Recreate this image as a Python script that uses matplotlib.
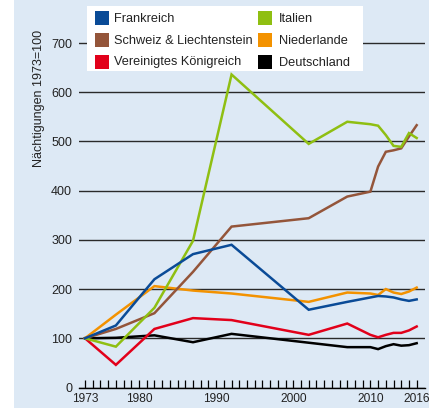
import matplotlib
matplotlib.use('Agg')
import matplotlib.pyplot as plt
from matplotlib.patches import Rectangle

plt.rcParams['font.family'] = ['Liberation Sans', 'DejaVu Sans']

years = [1973, 1977, 1982, 1987, 1992, 2002, 2007, 2010, 2011, 2012, 2013, 2014, 2015, 2016]
frankreich = [100, 126, 220, 271, 290, 158, 174, 183, 186, 185, 183, 179, 176, 179]
italien = [100, 83, 162, 298, 636, 495, 540, 535, 532, 513, 491, 489, 517, 507]
schweiz = [100, 119, 151, 235, 327, 344, 388, 398, 449, 479, 482, 486, 510, 533]
niederlande = [100, 148, 206, 197, 191, 174, 193, 191, 188, 200, 193, 190, 195, 203]
uk = [100, 46, 119, 141, 137, 107, 130, 107, 102, 107, 111, 111, 116, 124]
deutschland = [100, 101, 106, 92, 109, 91, 82, 82, 78, 84, 88, 85, 86, 90]

labels = ['Frankreich', 'Italien', 'Schweiz & Liechtenstein', 'Niederlande',
          'Vereinigtes Königreich', 'Deutschland']
colors = ['#0a4b97', '#8fbf12', '#94553a', '#f39200', '#e2001a', '#000000']
series = [frankreich, italien, schweiz, niederlande, uk, deutschland]

xticks = [1973, 1980, 1990, 2000, 2010, 2016]
yticks = [0, 100, 200, 300, 400, 500, 600, 700]

bg = '#dde9f5'
txt = '#222222'
W, H = 429, 408
fig = plt.figure(figsize=(W / 100, H / 100), dpi=100, facecolor=bg)
fig.patches.append(Rectangle((0, 0), 14 / W, 1, transform=fig.transFigure,
                             facecolor='white', edgecolor='none', zorder=0))

ax = fig.add_axes([79 / W, 20.5 / H, 346 / W, 374 / H])
ax.set_facecolor(bg)

# black first so the coloured lines sit on top
for vals, c in reversed(list(zip(series, colors))):
    ax.plot(years, vals, color=c, lw=1.8, solid_joinstyle='miter', zorder=3)

ax.set_xlim(1972.22, 2017.08)
ax.set_ylim(0, 760)
ax.set_yticks(yticks)
ax.set_xticks(xticks)
ax.set_xticks(range(1973, 2017), minor=True)
ax.yaxis.grid(True, color='#2a2a2a', lw=1.0)
ax.set_axisbelow(True)

for s in ['left', 'right', 'top']:
    ax.spines[s].set_visible(False)
ax.spines['bottom'].set_color('black')
ax.spines['bottom'].set_linewidth(1.0)

ax.tick_params(axis='y', length=0, pad=5, labelsize=9, colors=txt)
ax.tick_params(axis='x', which='both', direction='in', length=6, width=0.9,
               pad=4, labelsize=8.6, colors='black')
ax.tick_params(axis='x', labelcolor=txt)

fig.text(39 / W, 1 - 98 / H, 'Nächtigungen 1973=100', rotation=90,
         ha='center', va='center', fontsize=9, color=txt)

# legend box, drawn in figure pixels
def px(x, y):
    return x / W, 1 - y / H

fig.patches.append(Rectangle(px(87, 71), 276 / W, 65 / H, transform=fig.transFigure,
                             facecolor='white', edgecolor='none', zorder=10))
rows = [18, 40, 62]
cols = [(95, 114), (258, 279)]
order = [0, 2, 4, 1, 3, 5]
for k, i in enumerate(order):
    cx, tx = cols[k // 3]
    ry = rows[k % 3]
    fig.patches.append(Rectangle(px(cx, ry + 7), 14 / W, 14 / H, transform=fig.transFigure,
                                 facecolor=colors[i], edgecolor='none', zorder=11))
    fig.text(*px(tx, ry + 0.5), labels[i], ha='left', va='center', fontsize=9.2,
             color=txt, zorder=12)

fig.savefig('out.png', dpi=100, facecolor=bg)
